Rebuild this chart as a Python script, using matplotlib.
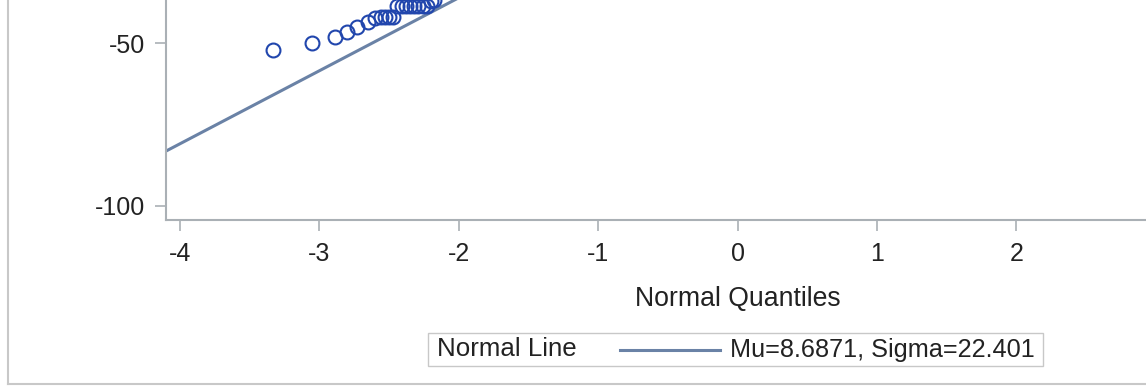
import numpy as np
import matplotlib
matplotlib.use("Agg")
import matplotlib.pyplot as plt
from matplotlib.lines import Line2D
from matplotlib.patches import Rectangle

quantiles = [-3.33, -3.05, -2.89, -2.80, -2.73, -2.65, -2.60,
             -2.56, -2.53, -2.50, -2.47,
             -2.44, -2.41, -2.38, -2.35, -2.32, -2.29, -2.26, -2.23,
             -2.20, -2.18]
values = [-52.1, -50.1, -48.1, -46.5, -45.2, -43.5, -42.4,
          -41.9, -41.9, -41.9, -41.9,
          -38.7, -38.7, -38.7, -38.7, -38.7, -38.7, -38.7, -38.7,
          -37.2, -36.9]

mu = 8.6871
sigma = 22.401

x_ticks = [-4, -3, -2, -1, 0, 1, 2]
y_ticks = [-100, -50]

plt.rcParams['font.family'] = ['Liberation Sans', 'DejaVu Sans']
plt.rcParams['axes.unicode_minus'] = False
text_color = '#222222'
axis_color = '#aab0b5'
line_color = '#6a82a6'
marker_color = '#2146ad'

fig = plt.figure(figsize=(11.46, 3.88), dpi=100)
ax = fig.add_axes([166 / 1146, 168 / 388, 1 - 166 / 1146, 1 - 168 / 388])

xlim = (-4.1, 2.93)
ax.set_xlim(xlim)
ax.set_ylim(-104.3, -36.8)

xs = np.array(xlim)
ax.plot(xs, mu + sigma * xs, color=line_color, lw=2.2, zorder=2)
ax.plot(quantiles, values, 'o', ms=10, mfc='none', mec=marker_color,
        mew=1.5, zorder=3)

for side in ['top', 'right']:
    ax.spines[side].set_visible(False)
for side in ['left', 'bottom']:
    ax.spines[side].set_color(axis_color)
    ax.spines[side].set_linewidth(1.5)

ax.set_xticks(x_ticks)
ax.set_yticks(y_ticks)
ax.tick_params(axis='both', colors=axis_color, labelcolor=text_color,
               labelsize=18, length=8, width=1.2)
ax.tick_params(axis='y', pad=7)
ax.tick_params(axis='x', pad=8)
ax.set_xlabel('Normal Quantiles', fontsize=19.2, color=text_color,
              labelpad=14)
# the axis label sits centred under 0 (the graph continues past the crop)
ax.xaxis.label.set_x((0 - xlim[0]) / (xlim[1] - xlim[0]))

# outer frame pieces visible in the crop
fig.add_artist(Line2D([8 / 1146, 8 / 1146], [4 / 388, 1], color='#c8c8c8',
                      lw=1.5, transform=fig.transFigure))
fig.add_artist(Line2D([8 / 1146, 1], [4 / 388, 4 / 388], color='#c8c8c8',
                      lw=1.5, transform=fig.transFigure))

# legend box
fig.add_artist(Rectangle((428 / 1146, 22 / 388), 615 / 1146, 33 / 388,
                         transform=fig.transFigure, fill=False,
                         ec='#c8c8c8', lw=1))
ly = 38.5 / 388
fig.text(437 / 1146, ly, 'Normal Line', fontsize=18.6, color=text_color,
         va='center', ha='left')
fig.add_artist(Line2D([620 / 1146, 720 / 1146], [ly, ly], color=line_color,
                      lw=2.2, transform=fig.transFigure))
fig.text(730 / 1146, ly, f'Mu={mu}, Sigma={sigma}', fontsize=18.2,
         color=text_color, va='center', ha='left')

fig.savefig('out.png', dpi=100)
